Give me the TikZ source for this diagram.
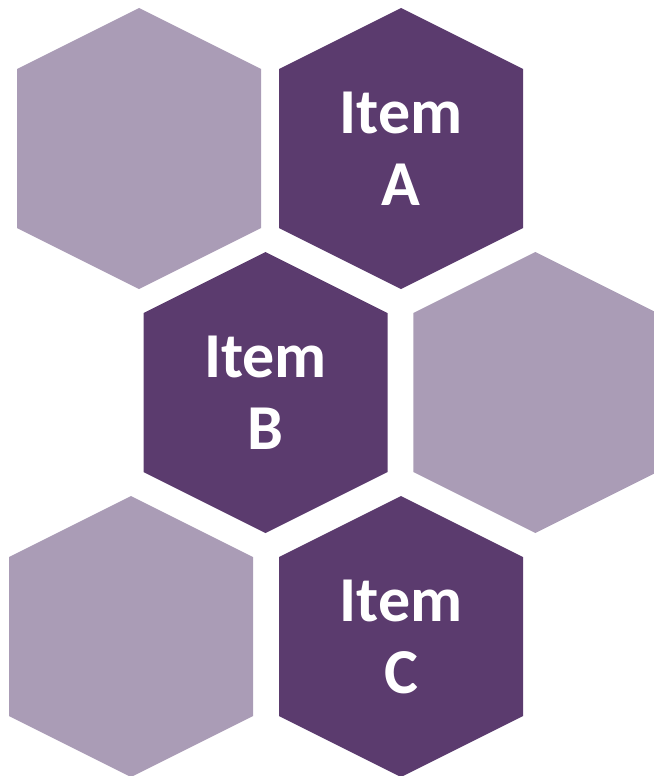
\documentclass[tikz,border=0pt]{standalone}
\usepackage{fontspec}
\setmainfont{Carlito}
\begin{document}
\begin{tikzpicture}[x=1pt, y=-1pt]
    \definecolor{fillColourLight}{HTML}{AA9CB6}
    \definecolor{fillColourDark}{HTML}{5B3B6E}

    \tikzset{itemText/.style={text=white, font=\bfseries\fontsize{64}{72}\selectfont, align=center}}

    \useasboundingbox (0,0) rectangle (653,776);

    % Hexagon centres
    \coordinate (hexTL) at (139,148.5);
    \coordinate (hexA) at (401,148.5);
    \coordinate (hexB) at (265.5,392.5);
    \coordinate (hexR) at (535.3,392.5);
    \coordinate (hexBL) at (131,636.5);
    \coordinate (hexC) at (401,636.5);

    % Draw hexagons
    \foreach \c/\col in {hexTL/fillColourLight, hexA/fillColourDark, hexB/fillColourDark,
                         hexR/fillColourLight, hexBL/fillColourLight, hexC/fillColourDark}
        \fill[\col] (\c) ++(0,-140.5) -- ++(-122,61) -- ++(0,159) -- ++(122,61)
                         -- ++(122,-61) -- ++(0,-159) -- cycle;

    % Labels
    \node[itemText] (itemA) at (hexA) {Item\\A};
    \node[itemText] (itemB) at (hexB) {Item\\B};
    \node[itemText] (itemC) at (hexC) {Item\\C};

\end{tikzpicture}
\end{document}
